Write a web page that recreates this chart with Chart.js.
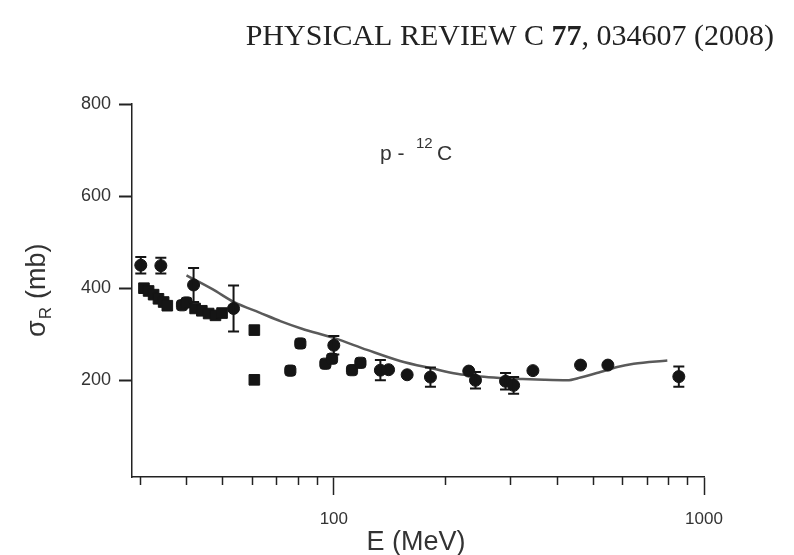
<!DOCTYPE html>
<html><head><meta charset="utf-8">
<script src="https://cdn.jsdelivr.net/npm/chart.js@4.4.1/dist/chart.umd.min.js"></script>
<style>html,body{margin:0;padding:0;background:#fff;}#wrap{width:794px;height:555px;}</style>
</head><body><div id="wrap"><canvas id="c" width="794" height="555"></canvas></div>
<script>
// Curve (model calculation)
const curveE = [40, 47, 54, 63, 72, 82, 100, 123, 151, 186, 215, 249, 282, 319, 370, 427, 464, 525, 583, 646, 796];
const curveS = [428, 398, 369, 347, 328, 312, 292, 266, 242, 225, 214, 208, 205, 203, 201, 200, 206, 218, 229, 236, 243];
// Circles with error bars
const errE = [30.1, 34.1, 41.8, 53.6, 100, 133.6, 182.4, 241.4, 291, 306, 855];
const errS = [450, 449, 407, 356, 276, 222, 207, 200, 198, 189, 208];
const errD = [18, 17, 37, 50, 20, 22, 21, 18, 18, 18, 22];
// Circles without error bars
const circE = [140.6, 157.8, 231.5, 345, 464, 550];
const circS = [223, 212, 220, 221, 233, 233];
// Squares
const sqE = [30.7, 31.6, 32.6, 33.6, 34.7, 35.5, 42.2, 44.0, 45.9, 47.9, 49.9, 61, 61];
const sqS = [400, 394, 386, 377, 370, 362, 356, 351, 345, 341, 346, 309, 201];
// Rounded markers
const rrE = [38.9, 40, 76.3, 81.2, 94.9, 98.9, 112, 118];
const rrS = [363, 369, 221, 280, 236, 247, 222, 238];
// Axis ticks
const xMinorTicks = [30, 40, 50, 60, 70, 80, 90, 200, 300, 400, 500, 600, 700, 800, 900];
const xMajorTicks = [100, 1000];
const yTicks = [200, 400, 600, 800];

const pts = (a, b) => a.map((v, i) => ({x: v, y: b[i]}));
const INK = '#151515';

const decor = {
  id: 'decor',
  afterDatasetsDraw(chart) {
    const {ctx, scales: {x, y}} = chart;
    ctx.save();
    ctx.strokeStyle = INK; ctx.lineWidth = 2;
    errE.forEach((e, i) => {
      const px = x.getPixelForValue(e);
      const t = y.getPixelForValue(errS[i] + errD[i]);
      const b = y.getPixelForValue(errS[i] - errD[i]);
      ctx.beginPath();
      ctx.moveTo(px, t); ctx.lineTo(px, b);
      ctx.moveTo(px - 5.5, t); ctx.lineTo(px + 5.5, t);
      ctx.moveTo(px - 5.5, b); ctx.lineTo(px + 5.5, b);
      ctx.stroke();
    });
    ctx.restore();
  },
  afterDraw(chart) {
    const {ctx, scales: {x, y}} = chart;
    ctx.save();
    // minor ticks
    ctx.strokeStyle = '#222'; ctx.lineWidth = 1.5;
    xMinorTicks.forEach(v => {
      const px = Math.round(x.getPixelForValue(v)) + 0.5;
      ctx.beginPath(); ctx.moveTo(px, x.top); ctx.lineTo(px, x.top + 8); ctx.stroke();
    });
    // header
    ctx.fillStyle = '#222';
    ctx.textBaseline = 'alphabetic';
    const parts = [['PHYSICAL REVIEW C ', 'normal'], ['77', 'bold'], [', 034607 (2008)', 'normal']];
    let w = 0;
    parts.forEach(p => { ctx.font = p[1] + ' 30px "Liberation Serif"'; w += ctx.measureText(p[0]).width; });
    let cx = 774 - w;
    parts.forEach(p => { ctx.font = p[1] + ' 30px "Liberation Serif"'; ctx.fillText(p[0], cx, 45); cx += ctx.measureText(p[0]).width; });
    // annotation p - 12C
    ctx.fillStyle = '#333';
    ctx.font = '21px "Liberation Sans"';
    ctx.fillText('p -', 380, 160);
    ctx.font = '15px "Liberation Sans"';
    ctx.fillText('12', 416, 148);
    ctx.font = '21px "Liberation Sans"';
    ctx.fillText('C', 437, 160);
    // x title
    ctx.font = '27px "Liberation Sans"';
    ctx.textAlign = 'center';
    ctx.fillText('E (MeV)', 416, 550);
    // y title
    ctx.textAlign = 'left';
    ctx.translate(45, 337);
    ctx.rotate(-Math.PI / 2);
    ctx.font = '27px "Liberation Sans"';
    ctx.fillText('σ', 0, 0);
    let sw = ctx.measureText('σ').width;
    ctx.font = '17px "Liberation Sans"';
    ctx.fillText('R', sw + 1, 6);
    sw += 1 + ctx.measureText('R').width + 8;
    ctx.font = '27px "Liberation Sans"';
    ctx.fillText('(mb)', sw, 0);
    ctx.restore();
  }
};

new Chart(document.getElementById('c'), {
  type: 'scatter',
  data: {
    datasets: [
      {data: pts(curveE, curveS), showLine: true, borderColor: '#5a5a5a', borderWidth: 2.5, pointRadius: 0, cubicInterpolationMode: 'monotone', order: 5},
      {data: pts(errE, errS), pointStyle: 'circle', pointRadius: 6, backgroundColor: INK, borderColor: INK, borderWidth: 1},
      {data: pts(circE, circS), pointStyle: 'circle', pointRadius: 6, backgroundColor: INK, borderColor: INK, borderWidth: 1},
      {data: pts(sqE, sqS), pointStyle: 'rect', pointRadius: 7.5, backgroundColor: INK, borderColor: INK, borderWidth: 1},
      {data: pts(rrE, rrS), pointStyle: 'rectRounded', pointRadius: 6.5, backgroundColor: INK, borderColor: INK, borderWidth: 1}
    ]
  },
  options: {
    responsive: false, animation: false,
    layout: {padding: {left: 0, top: 104, right: 90, bottom: 0}},
    plugins: {legend: {display: false}, tooltip: {enabled: false}},
    scales: {
      x: {
        type: 'logarithmic', position: 'bottom', min: 28.5, max: 1000,
        afterBuildTicks: s => { s.ticks = xMajorTicks.map(v => ({value: v, major: true})); },
        afterFit: s => { s.height = 78; },
        border: {display: true, color: '#222', width: 1.5},
        grid: {drawOnChartArea: false, drawTicks: true, tickLength: 18, tickWidth: 1.5, tickColor: '#222'},
        ticks: {autoSkip: false, maxRotation: 0, padding: 14, color: '#333', font: {family: 'Liberation Sans', size: 17},
                callback: v => String(v)}
      },
      y: {
        type: 'linear', min: -10, max: 800,
        afterBuildTicks: s => { s.ticks = yTicks.map(v => ({value: v})); },
        afterFit: s => { s.width = 132; },
        border: {display: true, color: '#222', width: 1.5},
        grid: {drawOnChartArea: false, drawTicks: true, tickLength: 13, tickWidth: 2, tickColor: '#222'},
        ticks: {padding: 8, color: '#333', font: {family: 'Liberation Sans', size: 18}}
      }
    }
  },
  plugins: [decor]
});
</script></body></html>
